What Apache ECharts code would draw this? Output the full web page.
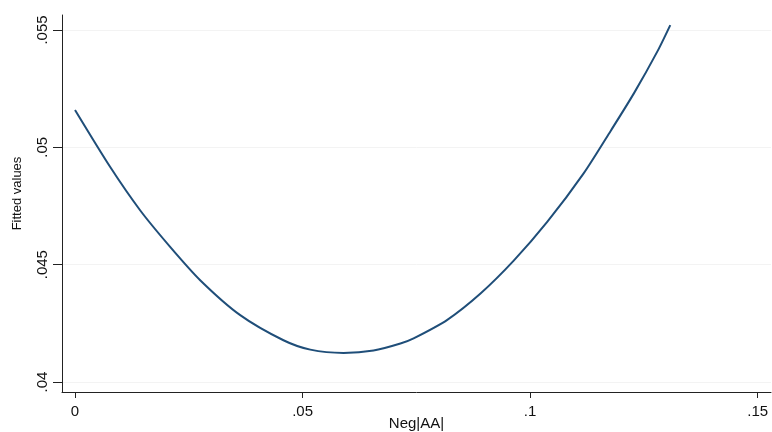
<!DOCTYPE html>
<html>
<head>
<meta charset="utf-8">
<script src="https://cdn.jsdelivr.net/npm/echarts@6/dist/echarts.min.js"></script>
<style>
html,body{margin:0;padding:0;background:#fff;}
#chart{width:772px;height:432px;}
</style>
</head>
<body>
<div id="chart"></div>
<script>
// Data
var negAA = [0, 0.0077, 0.0143, 0.0209, 0.0275, 0.0363, 0.0458, 0.0517, 0.0590, 0.0656, 0.0715, 0.0744, 0.0818, 0.0891, 0.0964, 0.1038, 0.1118, 0.1177, 0.1228, 0.1280, 0.1308];
var fitted = [0.05159, 0.04917, 0.04732, 0.04576, 0.04434, 0.04285, 0.04178, 0.04138, 0.04124, 0.04134, 0.04164, 0.04186, 0.04265, 0.04377, 0.04517, 0.04683, 0.04890, 0.05070, 0.05230, 0.05410, 0.05521];
var xTicks = [0, 0.05, 0.1, 0.15];
var yTicks = [0.04, 0.045, 0.05, 0.055];
var xTitle = 'Neg|AA|';
var yTitle = 'Fitted values';

function stataFmt(v) {
  if (v === 0) return '0';
  return String(+v.toPrecision(6)).replace(/^0\./, '.');
}

var points = negAA.map(function (x, i) { return [x, fitted[i]]; });
var font = '"Liberation Sans", Arial, sans-serif';
var chart = echarts.init(document.getElementById('chart'), null, {renderer: 'canvas'});
chart.setOption({
  animation: false,
  backgroundColor: '#ffffff',
  grid: {left: 62, right: 1, top: 15, bottom: 40, outerBoundsMode: 'none', containLabel: false},
  xAxis: {
    type: 'value',
    min: -0.00286,
    max: 0.15293,
    name: xTitle,
    nameLocation: 'middle',
    nameGap: 24,
    nameMoveOverlap: false,
    nameTextStyle: {fontFamily: font, fontSize: 15, color: '#111'},
    axisLine: {show: true, onZero: false, lineStyle: {color: '#222', width: 1}},
    axisTick: {show: true, length: 6, customValues: xTicks, lineStyle: {color: '#222'}},
    axisLabel: {customValues: xTicks, formatter: stataFmt, margin: 12, fontFamily: font, fontSize: 15, color: '#111'},
    splitLine: {show: false}
  },
  yAxis: {
    type: 'value',
    min: 0.039574,
    max: 0.05564,
    name: yTitle,
    nameLocation: 'middle',
    nameGap: 38,
    nameMoveOverlap: false,
    nameTextStyle: {fontFamily: font, fontSize: 13, color: '#111', padding: [0, 0, 0, 20]},
    axisLine: {show: true, onZero: false, lineStyle: {color: '#222', width: 1}},
    axisTick: {show: true, length: 9, customValues: yTicks, lineStyle: {color: '#222'}},
    axisLabel: {customValues: yTicks, formatter: stataFmt, rotate: 90, margin: 12, fontFamily: font, fontSize: 15, color: '#111'},
    splitLine: {show: true, lineStyle: {color: '#f3f3f3', width: 1}}
  },
  series: [{
    type: 'line',
    data: points,
    smooth: 0.25,
    showSymbol: false,
    lineStyle: {color: '#1f4e79', width: 2},
    clip: false
  }]
});
</script>
</body>
</html>
